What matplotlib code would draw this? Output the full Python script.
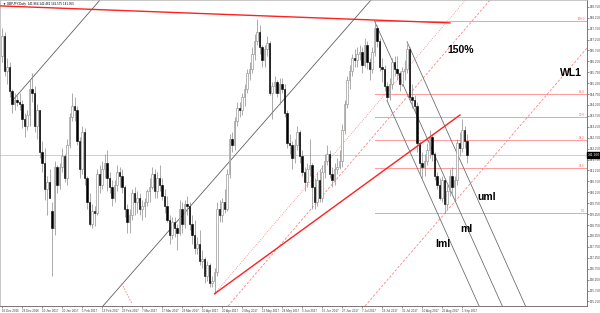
import matplotlib
matplotlib.use("Agg")
import matplotlib.pyplot as plt

# GBPJPY daily bars, 16 Dec 2016 .. 5 Sep 2017 (one entry per bar)
opens = [146.5, 147.4, 145.8, 146.0, 144.9, 144.3, 144.5, 144.4, 144.3, 143.6,
         143.3, 143.8, 145.0, 144.8, 143.3, 144.0, 142.1, 141.6, 140.4, 140.7,
         139.4, 138.6, 141.4, 140.6, 141.4, 141.9, 140.9, 142.4, 143.7, 144.2,
         144.0, 142.6, 141.3, 143.0, 140.9, 139.8, 138.8, 139.4, 139.3, 141.1,
         140.6, 141.3, 141.6, 140.9, 140.5, 140.0, 140.6, 141.2, 141.0, 140.5,
         139.5, 138.9, 139.2, 140.2, 139.8, 140.0, 139.5, 139.6, 139.8, 140.3,
         140.5, 141.1, 140.3, 140.9, 140.6, 140.1, 139.6, 139.0, 138.3, 138.9,
         138.6, 138.4, 139.5, 138.8, 139.7, 139.6, 138.8, 138.3, 137.7, 137.9,
         137.1, 137.2, 136.4, 136.9, 136.1, 136.2, 136.6, 139.5, 139.2, 139.8,
         139.5, 141.1, 142.7, 142.4, 143.5, 144.1, 144.0, 144.6, 145.0, 145.7,
         145.9, 146.6, 147.2, 147.6, 146.9, 146.3, 146.8, 147.1, 144.8, 145.1,
         145.3, 144.8, 145.2, 145.0, 143.9, 142.5, 142.4, 141.8, 142.4, 143.0,
         141.9, 141.2, 140.7, 141.3, 141.5, 140.5, 139.8, 140.8, 140.0, 141.2,
         141.7, 142.0, 141.1, 140.8, 141.3, 141.4, 141.7, 143.1, 144.3, 145.4,
         145.8, 146.4, 146.3, 146.6, 146.7, 146.1, 147.0, 146.2, 145.9, 146.7,
         147.8, 147.2, 146.0, 145.9, 145.1, 144.6, 145.2, 146.2, 145.9, 145.7,
         145.2, 145.8, 145.9, 146.8, 144.6, 144.5, 144.2, 142.5, 141.6, 141.4,
         141.7, 142.2, 142.8, 142.0, 141.0, 140.6, 140.0, 140.8, 139.7, 140.3,
         141.0, 140.5, 140.8, 142.5, 142.3, 143.1, 142.6]
highs = [147.8, 147.6, 146.4, 146.2, 145.0, 144.8, 144.7, 144.8, 144.5, 143.9,
         144.0, 145.4, 145.7, 145.1, 144.3, 144.0, 142.6, 142.3, 141.0, 141.3,
         139.8, 141.7, 141.5, 141.6, 142.3, 142.0, 142.7, 143.9, 144.8, 144.6,
         144.2, 142.8, 143.3, 143.2, 141.0, 140.2, 139.7, 139.6, 141.3, 141.5,
         141.7, 142.0, 142.2, 141.2, 140.8, 140.8, 141.5, 141.4, 141.3, 140.6,
         139.7, 139.5, 140.4, 140.5, 140.3, 140.2, 139.9, 140.0, 140.4, 140.9,
         141.4, 141.3, 141.2, 141.5, 140.9, 140.4, 140.1, 139.2, 139.1, 139.1,
         138.8, 139.9, 139.8, 139.9, 140.1, 139.8, 139.2, 139.0, 138.2, 138.5,
         137.6, 137.3, 137.1, 137.0, 136.4, 136.8, 139.8, 139.9, 140.0, 140.4,
         141.3, 142.9, 143.0, 143.7, 144.4, 144.4, 144.8, 145.2, 145.9, 146.2,
         146.9, 147.5, 148.2, 147.9, 147.0, 147.0, 147.4, 147.2, 145.3, 145.6,
         145.4, 145.5, 145.5, 145.2, 144.0, 142.9, 142.6, 142.7, 143.3, 143.1,
         142.2, 141.4, 141.6, 142.7, 141.6, 140.9, 141.2, 141.3, 141.5, 142.0,
         142.4, 142.2, 141.4, 141.6, 141.8, 142.2, 143.4, 144.5, 145.6, 146.1,
         146.6, 146.8, 146.9, 147.0, 146.9, 147.3, 147.2, 146.4, 146.9, 148.1,
         147.9, 147.3, 146.4, 146.1, 145.3, 145.5, 146.4, 146.5, 146.5, 145.8,
         146.0, 146.3, 147.05, 146.9, 145.2, 144.7, 144.4, 142.6, 142.1, 142.0,
         142.5, 143.1, 142.9, 142.1, 141.2, 140.9, 141.0, 140.9, 140.6, 141.3,
         141.4, 141.0, 142.7, 143.0, 143.6, 143.3, 142.9]
lows = [146.2, 145.6, 145.2, 144.6, 143.9, 144.0, 144.2, 144.0, 143.2, 142.8,
        143.1, 143.3, 144.4, 143.0, 142.7, 141.8, 141.2, 139.9, 139.2, 140.0,
        136.4, 138.3, 140.2, 140.4, 141.2, 140.7, 140.6, 142.3, 143.5, 143.5,
        142.4, 140.9, 141.1, 140.6, 139.5, 138.7, 138.6, 138.7, 139.2, 140.2,
        140.4, 140.9, 140.3, 140.2, 139.6, 139.8, 140.3, 140.5, 140.2, 139.1,
        138.4, 138.4, 139.0, 139.2, 139.3, 139.2, 139.0, 139.1, 139.6, 139.8,
        140.4, 140.0, 140.0, 140.3, 139.9, 139.3, 138.9, 137.9, 138.1, 138.2,
        137.6, 138.3, 138.4, 138.6, 139.2, 138.5, 137.9, 137.4, 137.4, 136.9,
        136.8, 136.1, 136.2, 135.9, 135.9, 135.6, 136.4, 138.9, 138.9, 139.3,
        139.4, 140.9, 142.1, 142.2, 143.3, 143.7, 143.8, 144.2, 144.8, 145.4,
        145.7, 146.3, 147.0, 146.6, 146.0, 146.0, 146.5, 144.7, 143.6, 144.8,
        144.6, 144.3, 144.8, 143.7, 142.3, 142.0, 141.3, 141.6, 142.2, 141.6,
        141.0, 140.3, 140.5, 141.0, 139.5, 139.5, 139.6, 139.8, 139.8, 140.9,
        141.5, 140.9, 140.5, 140.6, 141.1, 141.3, 141.4, 142.9, 144.1, 145.0,
        145.6, 146.0, 146.0, 146.3, 145.7, 146.0, 145.9, 145.4, 145.7, 146.5,
        146.9, 145.8, 145.3, 144.9, 144.45, 144.5, 145.0, 145.6, 145.4, 144.9,
        145.1, 145.4, 145.7, 144.4, 144.1, 143.9, 142.1, 141.1, 140.9, 141.0,
        141.5, 141.8, 141.7, 140.8, 140.4, 139.9, 139.8, 139.3, 139.5, 140.1,
        140.2, 139.9, 140.6, 141.9, 142.1, 142.3, 141.6]
closes = [147.4, 145.8, 146.0, 144.9, 144.3, 144.5, 144.4, 144.3, 143.6, 143.3,
          143.8, 145.0, 144.8, 143.3, 144.0, 142.1, 141.6, 140.4, 140.7, 140.0,
          138.6, 141.4, 140.6, 141.4, 141.9, 140.9, 142.4, 143.7, 144.2, 144.0,
          142.6, 141.3, 143.0, 140.9, 139.8, 138.8, 139.4, 139.3, 141.1, 140.6,
          141.3, 141.6, 140.9, 140.5, 140.0, 140.6, 141.2, 141.0, 140.5, 139.5,
          138.9, 139.2, 140.2, 139.8, 140.0, 139.5, 139.6, 139.8, 140.3, 140.5,
          141.1, 140.3, 140.9, 140.6, 140.1, 139.6, 139.0, 138.3, 138.9, 138.6,
          138.4, 139.5, 138.8, 139.7, 139.6, 138.8, 138.3, 137.7, 137.9, 137.1,
          137.2, 136.4, 136.9, 136.1, 136.2, 136.6, 139.5, 139.2, 139.8, 139.5,
          141.1, 142.7, 142.4, 143.5, 144.1, 144.0, 144.6, 145.0, 145.7, 145.9,
          146.6, 147.2, 147.6, 146.9, 146.3, 146.8, 147.1, 144.8, 145.1, 145.3,
          144.8, 145.2, 145.0, 143.9, 142.5, 142.4, 141.8, 142.4, 143.0, 141.9,
          141.2, 140.7, 141.3, 141.5, 140.5, 139.8, 140.8, 140.0, 141.2, 141.7,
          142.0, 141.1, 140.8, 141.3, 141.4, 141.7, 143.1, 144.3, 145.4, 145.8,
          146.4, 146.3, 146.6, 146.7, 146.1, 147.0, 146.2, 145.9, 146.7, 147.8,
          147.2, 146.0, 145.9, 145.1, 144.6, 145.2, 146.2, 145.9, 145.7, 145.2,
          145.8, 145.9, 146.8, 144.6, 144.5, 144.2, 142.5, 141.6, 141.4, 141.7,
          142.2, 142.8, 142.0, 141.0, 140.6, 140.0, 140.8, 139.7, 140.3, 141.0,
          140.5, 140.8, 142.5, 142.3, 143.1, 142.6, 141.96]

date_labels = ["16 Dec 2016", "28 Dec 2016", "10 Jan 2017", "20 Jan 2017", "1 Feb 2017",
               "13 Feb 2017", "23 Feb 2017", "7 Mar 2017", "17 Mar 2017", "29 Mar 2017",
               "10 Apr 2017", "20 Apr 2017", "2 May 2017", "12 May 2017", "24 May 2017",
               "5 Jun 2017", "15 Jun 2017", "27 Jun 2017", "7 Jul 2017", "19 Jul 2017",
               "31 Jul 2017", "10 Aug 2017", "22 Aug 2017", "1 Sep 2017"]
date_bars = [0, 8, 16, 24, 32, 40, 48, 56, 64, 72, 80, 88, 96, 104, 112, 120,
             128, 136, 144, 152, 160, 168, 176, 184]

price_ticks = [135.25, 135.75, 136.25, 136.75, 137.25, 137.75, 138.25, 138.75,
               139.25, 139.75, 140.25, 140.75, 141.25, 141.75, 142.25, 142.75,
               143.25, 143.75, 144.25, 144.75, 145.25, 145.75, 146.25, 146.75,
               147.25, 147.75, 148.25, 148.75]

last_price = 141.96

# fibonacci retracement: Jul 14 high -> Aug 23 low
fib_start_bar = 149
fib_high = 148.1
fib_low = 139.3
fib_levels = [0.0, 23.6, 38.2, 50.0, 61.8, 100.0]

# trend lines as (bar, price) anchor pairs
top_trend = [(-0.8, 148.79), (179.2, 148.01)]
april_trend = [(85, 135.6), (183.2, 143.79)]
channel_lines = [[(4.4, 144.48), (39.2, 149.06)],
                 [(40.4, 135.04), (147.6, 149.06)]]
wl_dotted = [(85, 135.6), (190, 149.67)]
wl_150 = [(90.4, 135.04), (195.2, 149.06)]
wl_1 = [(145.2, 135.04), (234, 146.86)]
short_dash = [(47.9, 136.08), (51.9, 135.16)]

# andrews pitchfork pivots
pf_a = (149, 148.1)
pf_b = (154, 144.45)
pf_c = (162, 147.15)

XMIN, XMAX = -0.8, 234.0
YMIN, YMAX = 135.04, 149.06

plt.rcParams['font.family'] = ['Liberation Sans', 'DejaVu Sans']

fig = plt.figure(figsize=(6.0, 3.13), dpi=100)
ax = fig.add_axes([0.0, 7 / 313, 587 / 600, 306 / 313])
ax.set_xlim(XMIN, XMAX)
ax.set_ylim(YMIN, YMAX)

# candles
for i in range(len(closes)):
    o, h, l, c = opens[i], highs[i], lows[i], closes[i]
    ax.vlines(i, l, h, color='#8a8a8a', lw=0.5, zorder=3)
    if c >= o:
        ax.bar(i, max(c - o, 0.02), bottom=o, width=0.7, facecolor='white',
               edgecolor='#909090', lw=0.45, zorder=4)
    else:
        ax.bar(i, o - c, bottom=c, width=0.7, facecolor='black',
               edgecolor='black', lw=0.4, zorder=4)

# current price line
ax.axhline(last_price, color='#c8c8c8', lw=0.6, zorder=1)

# fibonacci levels
for lv in fib_levels:
    p = fib_low + (fib_high - fib_low) * lv / 100.0
    ax.plot([fib_start_bar, XMAX], [p, p], color='#ff9a9a', lw=0.7, zorder=2)
    ax.text(XMAX - 0.8, p, f"{lv:.1f}", color='#ff6060', fontsize=2.2,
            ha='right', va='bottom', zorder=5)

# red trend lines
ax.plot(*zip(*top_trend), color='#ff2020', lw=1.0, zorder=5)
ax.plot(*zip(*april_trend), color='#ff2020', lw=1.0, zorder=5)

# black channel
for ln in channel_lines:
    ax.plot(*zip(*ln), color='#606060', lw=0.6, zorder=2)

# warning lines
ax.plot(*zip(*wl_dotted), color='#ff8080', lw=0.6, ls=(0, (1, 1.5)), zorder=2)
ax.plot(*zip(*wl_150), color='#ff8080', lw=0.6, ls=(0, (3, 2)), zorder=2)
ax.plot(*zip(*wl_1), color='#ff8080', lw=0.6, ls=(0, (3, 2)), zorder=2)
ax.plot(*zip(*short_dash), color='#ff8080', lw=0.6, ls=(0, (2, 1.5)), zorder=2)

# pitchfork
mid = ((pf_b[0] + pf_c[0]) / 2, (pf_b[1] + pf_c[1]) / 2)
slope = (mid[1] - pf_a[1]) / (mid[0] - pf_a[0])
for start in (pf_a, pf_b, pf_c):
    x_end = start[0] + (YMIN - start[1]) / slope
    ax.plot([start[0], x_end], [start[1], YMIN], color='#707070', lw=0.6, zorder=2)


# annotations, placed by screen pixel of the reference
def px(x):
    return (x - 2) / 2.5


def py(y):
    return 139.3 + (213 - y) / 21.82


for txt, x, y in [("150%", 461, 50), ("WL1", 571, 73), ("uml", 487, 197),
                  ("ml", 466, 229), ("lml", 443, 244)]:
    ax.text(px(x), py(y), txt, fontsize=7.5, fontweight='bold', ha='center',
            va='center', color='black', zorder=6)

ax.text(0.005, 0.995, "\u25bc GBPJPY,Daily  141.964 142.462 141.575 141.955",
        transform=ax.transAxes, fontsize=2.2, ha='left', va='top', color='black')

# axes styling
for side in ('top', 'left'):
    ax.spines[side].set_color('#b0b0b0')
    ax.spines[side].set_linewidth(0.5)
for side in ('right', 'bottom'):
    ax.spines[side].set_color('#606060')
    ax.spines[side].set_linewidth(0.6)

ax.yaxis.tick_right()
ax.set_yticks(price_ticks)
ax.set_yticklabels([f"{t:.3f}" for t in price_ticks])
ax.tick_params(axis='y', length=1.5, width=0.4, pad=0.8, labelsize=2.2,
               colors='#404040')
ax.set_xticks(date_bars)
ax.set_xticklabels(date_labels, ha='left')
ax.tick_params(axis='x', length=1.5, width=0.4, pad=0.6, labelsize=2.2,
               colors='#404040')

ax.text(1.002, last_price, f"{last_price:.3f}", transform=ax.get_yaxis_transform(),
        fontsize=2.4, color='white', ha='left', va='center', zorder=7,
        bbox=dict(facecolor='black', edgecolor='black', pad=0.6))

fig.savefig("out.png", dpi=100)
